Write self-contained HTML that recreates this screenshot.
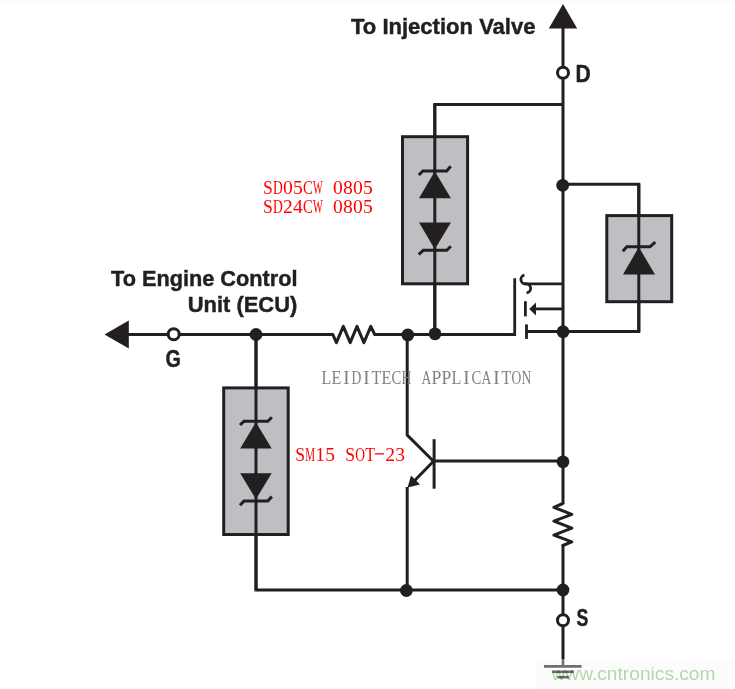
<!DOCTYPE html>
<html><head><meta charset="utf-8">
<style>
html,body{margin:0;padding:0;background:#fff;width:735px;height:689px;overflow:hidden}
svg{display:block;position:absolute;left:0;top:0;will-change:transform}
</style></head>
<body>
<svg width="735" height="689" viewBox="0 0 735 689">
<rect x="0" y="0" width="735" height="1" fill="#fafafa"/>
<g stroke="#231f20" stroke-width="3" fill="none" stroke-linecap="butt" stroke-linejoin="miter">
  <!-- main drain vertical -->
  <line x1="563" y1="27" x2="563" y2="504"/>
  <line x1="563" y1="545.3" x2="563" y2="659.2"/>
  <!-- top horizontal to upper TVS -->
  <polyline points="563,104.5 434.8,104.5 434.8,334.5"/>
  <!-- left main horizontal -->
  <polyline points="128,334.5 333.5,334.5"/>
  <polyline points="374,334.5 516,334.5"/>
  <polyline stroke-linejoin="round" points="332,334.5 332.8,334.5 336.4,342.6 343.3,326.3 350.2,342.6 357,326.3 363.9,342.6 370.8,326.3 374.7,334.5 376,334.5"/>
  <!-- left vertical to left TVS and bottom -->
  <polyline points="256,334.5 256,590 563,590"/>
  <!-- transistor collector -->
  <polyline points="407.2,334.5 407.2,435.1 433.5,461.2"/>
  <line x1="433.5" y1="461.2" x2="412.5" y2="482.8"/>
  <line x1="407.2" y1="487" x2="407.2" y2="590"/>
  <line x1="434.1" y1="439.2" x2="434.1" y2="488.7"/>
  <line x1="434.1" y1="460.9" x2="563" y2="460.9"/>
  <!-- right TVS -->
  <polyline points="563,184.2 638.8,184.2 638.8,331.6 526.5,331.6"/>
  <!-- vertical resistor -->
  <polyline stroke-linejoin="round" points="562.8,503 562.8,503.5 553.9,507.3 571.8,514.3 553.9,521.1 571.8,528.1 553.9,535.1 571.8,541.9 562.8,545.5 562.8,546"/>
</g>
<!-- TVS boxes -->
<g stroke="#231f20" stroke-width="3" fill="#bebfc2">
  <rect x="402.5" y="136.7" width="65.1" height="147.1"/>
  <rect x="223.7" y="387.9" width="64.5" height="146.6"/>
  <rect x="606.8" y="215.6" width="64.9" height="86.1"/>
</g>
<g stroke="#231f20" stroke-width="3" fill="none">
  <line x1="434.8" y1="104.5" x2="434.8" y2="334.5"/>
  <line x1="256" y1="334.5" x2="256" y2="590"/>
  <line x1="638.8" y1="184.2" x2="638.8" y2="331.6"/>
  <polyline points="418.8,175 422.9,170.9 446.7,170.9 450.7,166.2"/>
  <polyline points="418.7,254.5 423.3,250.3 446.7,250.3 450.9,246.2"/>
  <polyline points="240,425 244,421.2 267.8,421.2 271.9,417.2"/>
  <polyline points="240,505.3 244,500.9 267.8,500.9 271.9,496.6"/>
  <polyline points="622.8,251.3 626.8,246.8 650,246.8 655.3,242.2"/>
</g>
<g fill="#231f20" stroke="none">
  <polygon points="434.8,171.2 419,198.3 450.9,198.3"/>
  <polygon points="419,222.4 450.9,222.4 434.8,249.2"/>
  <polygon points="255.9,422.2 240.2,448.6 271.7,448.6"/>
  <polygon points="240.2,473.2 271.7,473.2 255.9,499.2"/>
  <polygon points="638.8,247 623,274.6 655,274.6"/>
  <!-- arrows -->
  <polygon points="563,3.9 548.8,28.6 577.2,28.6"/>
  <polygon points="104.5,334.5 128.8,320.4 128.8,348.6"/>
  <polygon points="407.6,487.6 411,475.6 420,484.4"/>
  <!-- dots -->
  <circle cx="256" cy="334.5" r="6.4"/>
  <circle cx="407.8" cy="335" r="6.4"/>
  <circle cx="435" cy="333.8" r="6.4"/>
  <circle cx="562.7" cy="185.3" r="6.4"/>
  <circle cx="563" cy="331.7" r="6.4"/>
  <circle cx="563" cy="461.8" r="6.4"/>
  <circle cx="563" cy="590" r="6.4"/>
  <circle cx="406.4" cy="590.5" r="6.4"/>
</g>
<!-- terminals -->
<g stroke="#231f20" stroke-width="3" fill="#fff">
  <circle cx="563" cy="72.7" r="5.5"/>
  <circle cx="173.7" cy="334.3" r="5.5"/>
  <circle cx="563" cy="620.3" r="5.5"/>
</g>
<!-- MOSFET -->
<g stroke="#231f20" stroke-width="2.8" fill="none">
  <polyline points="500,334.3 514.7,334.3 514.7,278.3"/>
  <line x1="524.5" y1="283.9" x2="563" y2="283.9"/>
  <path d="M524.4,275.2 A4.4,4.4 0 0 0 525.6,283.9 A4.5,4.5 0 0 1 526.6,292.9"/>
  <line x1="525.4" y1="301.2" x2="525.4" y2="316.4"/>
  <line x1="534" y1="308.9" x2="563" y2="308.9"/>
  <line x1="526.5" y1="324.4" x2="526.5" y2="338.9"/>
</g>
<polygon points="529.2,308.9 536,302.6 536,315.4" fill="#231f20"/>
<!-- watermark band -->
<rect x="535.4" y="659" width="200" height="31" fill="#f9f9f9" fill-opacity="0.5"/>
<!-- ground -->
<g stroke="#6e6e6e" stroke-width="2.6">
  <line x1="563" y1="659" x2="563" y2="666"/>
  <line x1="544" y1="666.4" x2="581.6" y2="666.4"/>
  <line x1="552.3" y1="671.8" x2="573.8" y2="671.8"/>
  <line x1="557.3" y1="677.2" x2="568.8" y2="677.2"/>
</g>
<!-- texts -->
<g font-family="Liberation Sans, sans-serif" font-weight="bold" fill="#231f20" stroke="#231f20" stroke-width="0.45">
  <text x="351" y="33.6" font-size="22.6" textLength="184.5" lengthAdjust="spacingAndGlyphs">To Injection Valve</text>
  <text x="575.6" y="81.6" font-size="23.5" textLength="15.2" lengthAdjust="spacingAndGlyphs">D</text>
  <text x="111" y="286.2" font-size="22.6" textLength="186.5" lengthAdjust="spacingAndGlyphs">To Engine Control</text>
  <text x="187.8" y="311.7" font-size="22.6" textLength="109.5" lengthAdjust="spacingAndGlyphs">Unit (ECU)</text>
  <text x="165.6" y="367" font-size="23.6" textLength="15.3" lengthAdjust="spacingAndGlyphs">G</text>
  <text x="576.6" y="626.1" font-size="23.2" textLength="11.8" lengthAdjust="spacingAndGlyphs">S</text>
</g>
<g font-family="Liberation Serif, serif" font-size="19.6" fill="#ff0000"><text x="263.00" y="193.9" textLength="9.8" lengthAdjust="spacingAndGlyphs">S</text><text x="273.00" y="193.9" textLength="9.8" lengthAdjust="spacingAndGlyphs">D</text><text x="287.90" y="193.9" text-anchor="middle">0</text><text x="297.90" y="193.9" text-anchor="middle">5</text><text x="303.00" y="193.9" textLength="9.8" lengthAdjust="spacingAndGlyphs">C</text><text x="313.00" y="193.9" textLength="9.8" lengthAdjust="spacingAndGlyphs">W</text><text x="337.90" y="193.9" text-anchor="middle">0</text><text x="347.90" y="193.9" text-anchor="middle">8</text><text x="357.90" y="193.9" text-anchor="middle">0</text><text x="367.90" y="193.9" text-anchor="middle">5</text></g>
<g font-family="Liberation Serif, serif" font-size="19.6" fill="#ff0000"><text x="263.00" y="213.3" textLength="9.8" lengthAdjust="spacingAndGlyphs">S</text><text x="273.00" y="213.3" textLength="9.8" lengthAdjust="spacingAndGlyphs">D</text><text x="287.90" y="213.3" text-anchor="middle">2</text><text x="297.90" y="213.3" text-anchor="middle">4</text><text x="303.00" y="213.3" textLength="9.8" lengthAdjust="spacingAndGlyphs">C</text><text x="313.00" y="213.3" textLength="9.8" lengthAdjust="spacingAndGlyphs">W</text><text x="337.90" y="213.3" text-anchor="middle">0</text><text x="347.90" y="213.3" text-anchor="middle">8</text><text x="357.90" y="213.3" text-anchor="middle">0</text><text x="367.90" y="213.3" text-anchor="middle">5</text></g>
<g font-family="Liberation Serif, serif" font-size="19.6" fill="#ff0000"><text x="295.20" y="460.6" textLength="9.8" lengthAdjust="spacingAndGlyphs">S</text><text x="305.20" y="460.6" textLength="9.8" lengthAdjust="spacingAndGlyphs">M</text><text x="320.10" y="460.6" text-anchor="middle">1</text><text x="330.10" y="460.6" text-anchor="middle">5</text><text x="345.20" y="460.6" textLength="9.8" lengthAdjust="spacingAndGlyphs">S</text><text x="355.20" y="460.6" textLength="9.8" lengthAdjust="spacingAndGlyphs">O</text><text x="365.20" y="460.6" textLength="9.8" lengthAdjust="spacingAndGlyphs">T</text><rect x="374.90" y="453.20" width="9" height="1.3"/><text x="390.10" y="460.6" text-anchor="middle">2</text><text x="400.10" y="460.6" text-anchor="middle">3</text></g>
<g font-family="Liberation Serif, serif" font-size="19.0" fill="#808080"><text x="321.60" y="383.6" textLength="9.8" lengthAdjust="spacingAndGlyphs">L</text><text x="331.60" y="383.6" textLength="9.8" lengthAdjust="spacingAndGlyphs">E</text><text x="346.50" y="383.6" text-anchor="middle">I</text><text x="351.60" y="383.6" textLength="9.8" lengthAdjust="spacingAndGlyphs">D</text><text x="366.50" y="383.6" text-anchor="middle">I</text><text x="371.60" y="383.6" textLength="9.8" lengthAdjust="spacingAndGlyphs">T</text><text x="381.60" y="383.6" textLength="9.8" lengthAdjust="spacingAndGlyphs">E</text><text x="391.60" y="383.6" textLength="9.8" lengthAdjust="spacingAndGlyphs">C</text><text x="401.60" y="383.6" textLength="9.8" lengthAdjust="spacingAndGlyphs">H</text><text x="421.60" y="383.6" textLength="9.8" lengthAdjust="spacingAndGlyphs">A</text><text x="431.60" y="383.6" textLength="9.8" lengthAdjust="spacingAndGlyphs">P</text><text x="441.60" y="383.6" textLength="9.8" lengthAdjust="spacingAndGlyphs">P</text><text x="451.60" y="383.6" textLength="9.8" lengthAdjust="spacingAndGlyphs">L</text><text x="466.50" y="383.6" text-anchor="middle">I</text><text x="471.60" y="383.6" textLength="9.8" lengthAdjust="spacingAndGlyphs">C</text><text x="481.60" y="383.6" textLength="9.8" lengthAdjust="spacingAndGlyphs">A</text><text x="496.50" y="383.6" text-anchor="middle">I</text><text x="501.60" y="383.6" textLength="9.8" lengthAdjust="spacingAndGlyphs">T</text><text x="511.60" y="383.6" textLength="9.8" lengthAdjust="spacingAndGlyphs">O</text><text x="521.60" y="383.6" textLength="9.8" lengthAdjust="spacingAndGlyphs">N</text></g>
<text x="551.5" y="679.5" font-family="Liberation Sans, sans-serif" font-size="17.5" fill="#b3dbad" style="mix-blend-mode:multiply" textLength="164" lengthAdjust="spacingAndGlyphs">www.cntronics.com</text>
</svg>
</body></html>
